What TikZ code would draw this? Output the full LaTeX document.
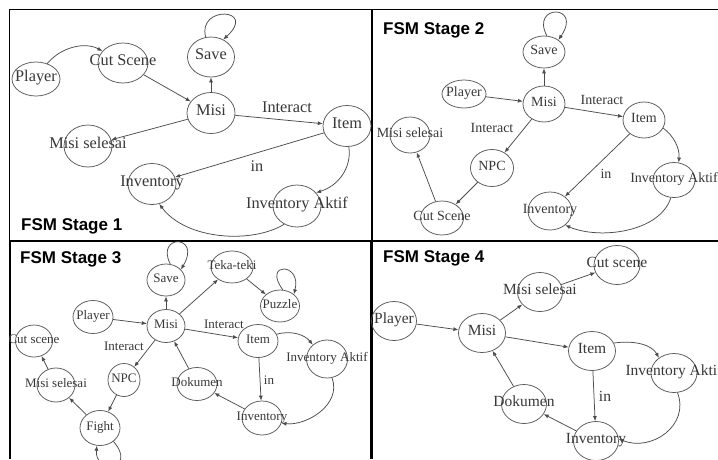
\documentclass[tikz,border=0pt]{standalone}
\usepackage{fontspec}
\setmainfont{Liberation Serif}
\newfontfamily\titlefont{Liberation Sans}
\usetikzlibrary{shapes.geometric,arrows.meta}
\begin{document}
\begin{tikzpicture}[x=1pt,y=-1pt,
  st/.style={ellipse,draw=black!65,line width=0.75pt,inner sep=0pt,text=black!78,text height=1.5ex,text depth=0.25ex},
  sz/.style 2 args={minimum width=#1pt,minimum height=#2pt},
  arr/.style={draw=black!70,line width=0.75pt,-{Latex[length=5pt,width=4pt]}},
  lbl/.style={text=black!78,inner sep=0pt},
  ttl/.style={anchor=base west,inner sep=0pt,font=\titlefont\bfseries\fontsize{17}{20}\selectfont},
  f1/.style={font=\fontsize{16.3}{18}\selectfont},
  f2/.style={font=\fontsize{14}{16}\selectfont},
  f3/.style={font=\fontsize{13}{15}\selectfont},
  f4/.style={font=\fontsize{15.5}{17}\selectfont}
]
\clip (0,0) rectangle (718,459);
\fill[white] (0,0) rectangle (718,459);

% ---------- frame ----------
\draw[line width=1.5pt] (9.5,240) -- (9.5,9.3) -- (718,9.3);
\draw[line width=2pt] (10,240) -- (10,459);
\draw[line width=2pt] (9,240.5) -- (718,240.5);
\draw[line width=2pt] (371.8,9) -- (371.8,240.5);
\draw[line width=3.5pt] (371.3,240.5) -- (371.3,459);

% ---------- Stage 1 ----------
\begin{scope}[f1]
\node[st,sz={48}{34}] (p1player) at (36,79) {\makebox[0pt]{Player}};
\node[st,sz={50}{40}] (p1cut) at (123,63) {\makebox[0pt]{Cut Scene}};
\node[st,sz={47}{40}] (p1save) at (211,57) {\makebox[0pt]{Save}};
\node[st,sz={48}{41}] (p1misi) at (211,113) {\makebox[0pt]{Misi}};
\node[st,sz={48}{42}] (p1selesai) at (88,146) {\makebox[0pt]{Misi selesai}};
\node[st,sz={48}{41}] (p1item) at (347,126) {\makebox[0pt]{Item}};
\node[st,sz={48}{41}] (p1inv) at (152,184) {\makebox[0pt]{Inventory}};
\node[st,sz={48}{42}] (p1aktif) at (297,206) {\makebox[0pt]{Inventory Aktif}};
\node[lbl] (p1l1) at (287,107) {Interact};
\node[lbl] (p1l2) at (257,166) {in};
\end{scope}
\node[ttl] (p1t) at (21,230) {FSM Stage 1};
\draw[arr] (p1player.54) .. controls (62,46) and (86,42) .. (p1cut.150);
\draw[arr] (p1cut) -- (p1misi);
\draw[arr] (p1misi) -- (p1save);
\draw[arr] (p1misi) -- (p1item);
\draw[arr] (p1misi) -- (p1selesai);
\draw[arr] (p1item) -- (p1inv);
\draw[arr] (p1item.-85) .. controls (352,168) and (338,186) .. (p1aktif.35);
\draw[arr] (p1aktif.-125) .. controls (252,244) and (186,240) .. (p1inv.-70);
\draw[arr] (p1save.105) .. controls (197,5) and (258,8) .. (p1save.55);

% ---------- Stage 2 ----------
\begin{scope}[f2]
\node[st,sz={42}{32}] (p2save) at (544,52) {\makebox[0pt]{Save}};
\node[st,sz={44}{28}] (p2player) at (464,94) {\makebox[0pt]{Player}};
\node[st,sz={42}{36}] (p2misi) at (544,104) {\makebox[0pt]{Misi}};
\node[st,sz={42}{36}] (p2item) at (644,120) {\makebox[0pt]{Item}};
\node[st,sz={40}{36}] (p2selesai) at (410,135) {\makebox[0pt]{Misi selesai}};
\node[st,sz={43}{37}] (p2npc) at (492,168) {\makebox[0pt]{NPC}};
\node[st,sz={43}{34}] (p2cut) at (442,218) {\makebox[0pt]{Cut Scene}};
\node[st,sz={44}{38}] (p2inv) at (550,211) {\makebox[0pt]{Inventory}};
\node[st,sz={42}{35}] (p2aktif) at (674,180) {\makebox[0pt]{Inventory Aktif}};
\node[lbl] (p2l1) at (602,100) {Interact};
\node[lbl] (p2l2) at (492,128) {Interact};
\node[lbl] (p2l3) at (606,174) {in};
\end{scope}
\node[ttl] (p2t) at (383,34.5) {FSM Stage 2};
\draw[arr] (p2misi) -- (p2save);
\draw[arr] (p2player) -- (p2misi);
\draw[arr] (p2misi) -- (p2item);
\draw[arr] (p2misi) -- (p2npc);
\draw[arr] (p2npc) -- (p2cut);
\draw[arr] (p2cut) -- (p2selesai);
\draw[arr] (p2item) -- (p2inv);
\draw[arr] (p2item.-23) .. controls (673,135) and (680,148) .. (p2aktif.75);
\draw[arr] (p2aktif.-100) .. controls (660,232) and (600,240) .. (p2inv.-43);
\draw[arr] (p2save.80) .. controls (530,4) and (583,4) .. (p2save.40);

% ---------- Stage 3 ----------
\begin{scope}[f3]
\node[st,sz={38}{32}] (p3save) at (166,280) {\makebox[0pt]{Save}};
\node[st,sz={42}{32}] (p3teka) at (232,267) {\makebox[0pt]{Teka-teki}};
\node[st,sz={39}{32}] (p3puzzle) at (280,306) {\makebox[0pt]{Puzzle}};
\node[st,sz={40}{33}] (p3player) at (93,317) {\makebox[0pt]{Player}};
\node[st,sz={38}{33}] (p3misi) at (166,326) {\makebox[0pt]{Misi}};
\node[st,sz={40}{33}] (p3item) at (258,341) {\makebox[0pt]{Item}};
\node[st,sz={41}{38}] (p3aktif) at (327,359) {\makebox[0pt]{Inventory Aktif}};
\node[st,sz={37}{32}] (p3cut) at (34,341) {\makebox[0pt]{Cut scene}};
\node[st,sz={38}{34}] (p3selesai) at (56,385) {\makebox[0pt]{Misi selesai}};
\node[st,sz={32}{33}] (p3npc) at (124,380) {\makebox[0pt]{NPC}};
\node[st,sz={40}{33}] (p3dok) at (197,384) {\makebox[0pt]{Dokumen}};
\node[st,sz={40}{34}] (p3inv) at (262,418) {\makebox[0pt]{Inventory}};
\node[st,sz={40}{35}] (p3fight) at (100,428) {\makebox[0pt]{Fight}};
\node[lbl] (p3l1) at (224,324) {Interact};
\node[lbl] (p3l2) at (124,346) {Interact};
\node[lbl] (p3l3) at (269,380) {in};
\end{scope}
\node[ttl] (p3t) at (20,263) {FSM Stage 3};
\draw[arr] (p3misi) -- (p3save);
\draw[arr] (p3misi) -- (p3teka);
\draw[arr] (p3teka) -- (p3puzzle);
\draw[arr] (p3player) -- (p3misi);
\draw[arr] (p3misi) -- (p3item);
\draw[arr] (p3item.20) .. controls (292,330) and (305,335) .. (p3aktif.135);
\draw[arr] (p3item) -- (p3inv);
\draw[arr] (p3aktif.-75) .. controls (342,405) and (306,426) .. (p3inv.-15);
\draw[arr] (p3inv) -- (p3dok);
\draw[arr] (p3dok) -- (p3misi);
\draw[arr] (p3misi) -- (p3npc);
\draw[arr] (p3npc) -- (p3fight);
\draw[arr] (p3fight) -- (p3selesai);
\draw[arr] (p3selesai) -- (p3cut);
\draw[arr] (p3save.75) .. controls (155,234) and (202,234) .. (p3save.35);
\draw[arr] (p3puzzle.80) .. controls (262,262) and (302,262) .. (p3puzzle.40);
\draw[arr] (p3fight.-45) .. controls (138,470) and (94,474) .. (p3fight.-100);

% ---------- Stage 4 ----------
\begin{scope}[f4]
\node[st,sz={46}{39}] (p4cut) at (617,265) {\makebox[0pt]{Cut scene}};
\node[st,sz={45}{39}] (p4selesai) at (540,292) {\makebox[0pt]{Misi selesai}};
\node[st,sz={45}{39}] (p4player) at (394,321) {\makebox[0pt]{Player}};
\node[st,sz={47}{39}] (p4misi) at (482,333) {\makebox[0pt]{Misi}};
\node[st,sz={47}{39}] (p4item) at (592,351) {\makebox[0pt]{Item}};
\node[st,sz={46}{39}] (p4aktif) at (674,373) {\makebox[0pt]{Inventory Aktif}};
\node[st,sz={45}{39}] (p4dok) at (524,404) {\makebox[0pt]{Dokumen}};
\node[st,sz={45}{39}] (p4inv) at (596,441) {\makebox[0pt]{Inventory}};
\node[lbl] (p4l1) at (605,396) {in};
\end{scope}
\node[ttl] (p4t) at (383,262) {FSM Stage 4};
\draw[arr] (p4player) -- (p4misi);
\draw[arr] (p4misi) -- (p4selesai);
\draw[arr] (p4selesai) -- (p4cut);
\draw[arr] (p4misi) -- (p4item);
\draw[arr] (p4item.20) .. controls (635,340) and (652,345) .. (p4aktif.135);
\draw[arr] (p4item) -- (p4inv);
\draw[arr] (p4aktif.-80) .. controls (690,425) and (652,452) .. (p4inv.5);
\draw[arr] (p4inv) -- (p4dok);
\draw[arr] (p4dok) -- (p4misi);
\end{tikzpicture}
\end{document}
